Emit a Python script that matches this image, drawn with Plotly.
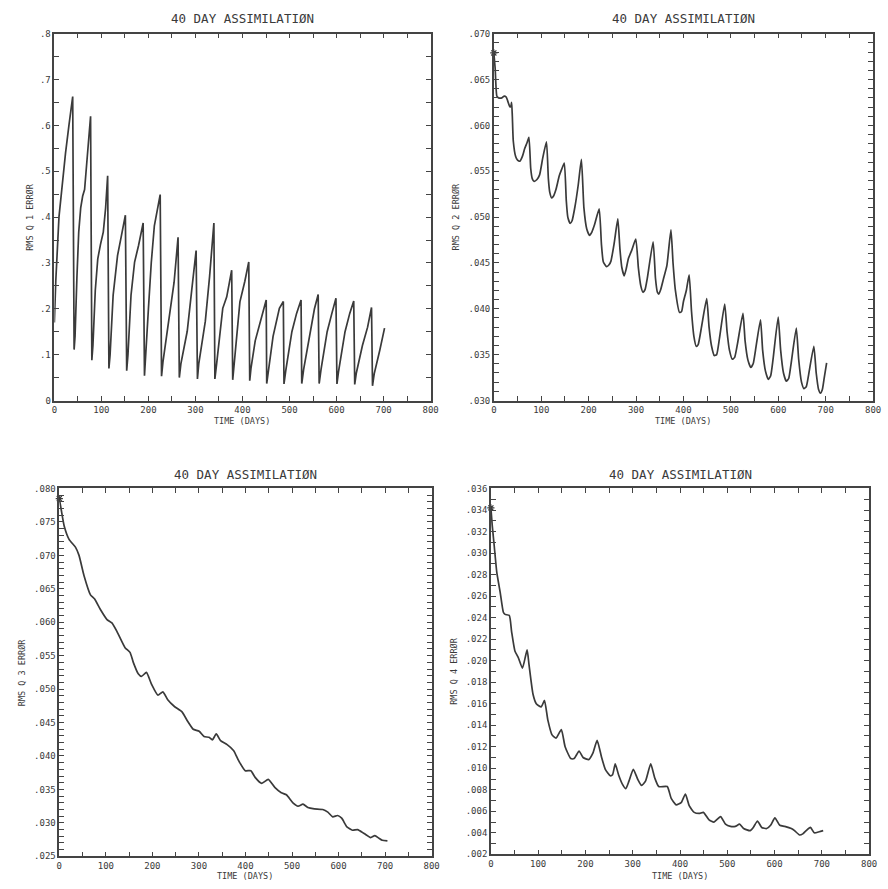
import plotly.graph_objects as go
from plotly.subplots import make_subplots

# ---- RMS error of each field during a 40-day assimilation run ----
days_q1 = [0, 3, 9.8, 16, 23.8, 31, 39, 42, 44, 48, 51.8, 56, 60.2, 64.3, 70, 77,
           79.7, 82, 87, 92.3, 98, 104, 109, 113.3, 116, 118.5, 125, 134.3, 142.7, 151,
           153.8, 156.5, 163, 170.6, 179, 188.8, 191.6, 194, 200, 206, 212.6, 225,
           227.9, 231, 240.6, 254.6, 263, 265.7, 269, 282.5, 292, 301.4, 304.2, 307,
           321, 330, 339.2, 341.3, 345, 352, 358, 366.5, 377, 379.2, 382, 388, 394.5,
           405, 413.3, 415.4, 418, 427, 436.4, 443, 450.4, 451.5, 455, 465, 478.4,
           486.8, 488.2, 492, 505, 515, 524.5, 526, 530, 545, 553, 560.9, 563, 567,
           580, 590, 598.7, 600.8, 604, 618, 628, 636.5, 638.6, 642, 655, 666, 674.3,
           676.4, 680, 692, 702]
rms_q1 = [0.17, 0.26, 0.40, 0.47, 0.54, 0.60, 0.663, 0.111, 0.14, 0.27, 0.367, 0.42,
          0.446, 0.46, 0.54, 0.62, 0.088, 0.12, 0.24, 0.309, 0.34, 0.367, 0.42, 0.49,
          0.070, 0.10, 0.23, 0.316, 0.36, 0.404, 0.065, 0.10, 0.23, 0.302, 0.338,
          0.387, 0.054, 0.09, 0.20, 0.30, 0.381, 0.449, 0.053, 0.085, 0.158, 0.258,
          0.356, 0.050, 0.08, 0.151, 0.24, 0.327, 0.047, 0.08, 0.173, 0.27, 0.387,
          0.047, 0.08, 0.15, 0.201, 0.226, 0.284, 0.045, 0.075, 0.15, 0.215, 0.26,
          0.302, 0.043, 0.07, 0.13, 0.165, 0.19, 0.219, 0.037, 0.065, 0.14, 0.201,
          0.216, 0.036, 0.065, 0.15, 0.19, 0.219, 0.037, 0.068, 0.16, 0.20, 0.231,
          0.037, 0.068, 0.15, 0.19, 0.223, 0.036, 0.062, 0.15, 0.19, 0.217, 0.035,
          0.06, 0.12, 0.16, 0.203, 0.032, 0.058, 0.11, 0.158]

days_q2 = [0, 2.8, 6.3, 10, 17, 22, 26, 29, 34, 36, 37.5, 39, 41, 46, 50, 55, 60, 65.3,
           70, 74, 77.8, 81, 85, 91, 96.5, 103, 111, 115, 118, 122, 126, 131, 138, 143,
           148.6, 152.8, 156, 161, 165, 171, 178, 184.7, 190, 196, 201.9, 207, 212,
           222.2, 227, 231, 238, 243, 247, 254, 261.5, 266, 270, 275, 279, 284, 291,
           299.4, 305, 310, 314.6, 319, 323.6, 336, 341, 345, 348, 352, 358, 365,
           373.6, 378, 383, 391.7, 396, 400, 406, 412, 417, 422, 427, 431, 438, 449,
           454, 459, 465, 470, 476, 487, 492, 497, 503, 508, 514, 525.5, 530, 536,
           542, 547, 552, 562.5, 567, 573, 579, 584, 589, 599.8, 605, 611, 617, 622,
           627, 638, 643, 649, 654, 659, 664, 675, 680, 685, 689, 693, 697, 702]
rms_q2 = [0.0679, 0.0662, 0.0632, 0.0630, 0.0630, 0.0632, 0.0631, 0.0627, 0.0620,
          0.0621, 0.0625, 0.0610, 0.0583, 0.0566, 0.0562, 0.0561, 0.0566, 0.0575,
          0.0581, 0.0587, 0.0553, 0.0542, 0.0539, 0.0541, 0.0546, 0.0564, 0.0582,
          0.0542, 0.0527, 0.0521, 0.0523, 0.0530, 0.0545, 0.0552, 0.0559, 0.0518,
          0.0500, 0.0493, 0.0496, 0.0511, 0.0535, 0.0563, 0.0510, 0.0487, 0.0480,
          0.0484, 0.0491, 0.0509, 0.0470, 0.0451, 0.0446, 0.0448, 0.0452, 0.0472,
          0.0498, 0.0465, 0.0445, 0.0436, 0.0443, 0.0455, 0.0464, 0.0476, 0.0444,
          0.0425, 0.0418, 0.0421, 0.0433, 0.0473, 0.0433, 0.0418, 0.0416, 0.0421,
          0.0433, 0.0447, 0.0486, 0.0450, 0.0420, 0.0396, 0.0397, 0.0408, 0.0420,
          0.0437, 0.0397, 0.0370, 0.0359, 0.0361, 0.0380, 0.0411, 0.0380, 0.0360,
          0.0349, 0.0350, 0.0368, 0.0405, 0.0375, 0.0355, 0.0345, 0.0347, 0.0362,
          0.0395, 0.0365, 0.0344, 0.0336, 0.0340, 0.0355, 0.0388, 0.0355, 0.0332,
          0.0323, 0.0327, 0.0345, 0.0391, 0.0355, 0.0330, 0.0321, 0.0324, 0.0340,
          0.0379, 0.0345, 0.0320, 0.0313, 0.0315, 0.0328, 0.0359, 0.0330, 0.0312,
          0.0308, 0.0312, 0.0325, 0.0341]

days_q3 = [0, 4, 10.5, 21, 35, 42.4, 53, 67, 75.6, 88.3, 102.5, 113, 124, 141.3, 152,
           159, 169.6, 176.6, 187.2, 197.8, 212, 222.6, 233, 247.4, 263.7, 275.7,
           287.7, 300.5, 311, 321.7, 328.8, 337.3, 346.5, 360.6, 374.8, 385.4, 399.5,
           411.6, 420.8, 435, 449, 463, 477, 488, 502, 513, 523.6, 534, 548, 566, 577,
           587.6, 598, 606.8, 618, 630, 641, 655, 669, 678, 687, 694, 705]
rms_q3 = [0.0785, 0.0769, 0.0744, 0.0724, 0.0712, 0.0700, 0.0670, 0.0641, 0.0635,
          0.0619, 0.0604, 0.0599, 0.0586, 0.0562, 0.0555, 0.0540, 0.0523, 0.0519,
          0.0525, 0.0508, 0.0491, 0.0496, 0.0484, 0.0474, 0.0466, 0.0452, 0.0440,
          0.0437, 0.0429, 0.0428, 0.0424, 0.0433, 0.0423, 0.0417, 0.0408, 0.0393,
          0.0378, 0.0378, 0.0368, 0.0359, 0.0365, 0.0353, 0.0345, 0.0342, 0.0330,
          0.0325, 0.0328, 0.0323, 0.0321, 0.0320, 0.0316, 0.0309, 0.0311, 0.0307,
          0.0294, 0.0289, 0.0290, 0.0284, 0.0278, 0.0281, 0.0277, 0.0274, 0.0273]

days_q4 = [0, 3, 7, 12.5, 19.5, 26.4, 30, 39, 43.8, 50.8, 57.8, 66.8, 76.6, 80.7, 89,
           96, 106.4, 113.4, 120.4, 129.4, 137.8, 149, 157, 169, 176, 186.5, 195, 207,
           215.7, 224.7, 233.7, 242, 252.5, 257.4, 263, 270, 278.4, 285.3, 292, 301.3,
           310.3, 318.7, 327, 338, 346.6, 355, 373, 381.4, 391.8, 402.3, 411.4, 419.7,
           430, 440.5, 449.5, 461.4, 471.8, 485.8, 496.2, 506.7, 517, 526, 534.5,
           548.4, 555, 563.8, 572.8, 583.3, 591.6, 600.7, 611, 621.5, 635.4, 642.3,
           652.8, 659.7, 666.7, 675.8, 684, 694.5, 702.8]
rms_q4 = [0.0342, 0.0325, 0.0307, 0.0282, 0.0264, 0.0245, 0.0243, 0.0242, 0.0227,
          0.0209, 0.0203, 0.0193, 0.0210, 0.0196, 0.0169, 0.0160, 0.0157, 0.0163,
          0.0145, 0.0131, 0.0128, 0.0136, 0.0120, 0.0109, 0.0109, 0.0116, 0.0110,
          0.0108, 0.0114, 0.0126, 0.0111, 0.0099, 0.0093, 0.0094, 0.0104, 0.0094,
          0.0085, 0.0081, 0.0088, 0.0099, 0.0090, 0.0084, 0.0088, 0.0104, 0.0091,
          0.0083, 0.0083, 0.0072, 0.0066, 0.0068, 0.0076, 0.0065, 0.0059, 0.0058,
          0.0059, 0.0052, 0.0050, 0.0055, 0.0048, 0.0046, 0.0046, 0.0048, 0.0044,
          0.0042, 0.0045, 0.0051, 0.0045, 0.0044, 0.0047, 0.0054, 0.0047, 0.0046,
          0.0044, 0.0042, 0.0038, 0.0039, 0.0042, 0.0045, 0.0040, 0.0041, 0.0042]

# ---- tick labels ----
x_ticks = [0, 100, 200, 300, 400, 500, 600, 700, 800]
x_labels = ["0", "100", "200", "300", "400", "500", "600", "700", "800"]
x_minor_ticks = [50, 150, 250, 350, 450, 550, 650, 750]

y1_ticks = [0, 0.1, 0.2, 0.3, 0.4, 0.5, 0.6, 0.7, 0.8]
y1_labels = ["0", ".1", ".2", ".3", ".4", ".5", ".6", ".7", ".8"]
y2_ticks = [0.030, 0.035, 0.040, 0.045, 0.050, 0.055, 0.060, 0.065, 0.070]
y2_labels = [".030", ".035", ".040", ".045", ".050", ".055", ".060", ".065", ".070"]
y3_ticks = [0.025, 0.030, 0.035, 0.040, 0.045, 0.050, 0.055, 0.060, 0.065, 0.070,
            0.075, 0.080]
y3_labels = [".025", ".030", ".035", ".040", ".045", ".050", ".055", ".060", ".065",
             ".070", ".075", ".080"]
y4_ticks = [0.002 * k for k in range(1, 19)]
y4_labels = ["." + f"{0.002 * k:.3f}".split(".")[1] for k in range(1, 19)]

title_text = "40 DAY ASSIMILATIØN"
y_titles = ["RMS Q 1 ERRØR", "RMS Q 2 ERRØR", "RMS Q 3 ERRØR", "RMS Q 4 ERRØR"]
x_title = "TIME (DAYS)"

INK = "#3a3a3a"
AXIS = "#444444"
FONT = "DejaVu Sans Mono"
W, H = 888, 889

# panel boxes in pixels: (left, right, top, bottom)
boxes = [(52, 433, 29, 400), (497, 881, 29, 400), (57, 434, 489, 861), (494, 877, 489, 859)]
y_ranges = [(0, 0.8), (0.030, 0.070), (0.025, 0.080), (0.002, 0.036)]
y_minor = [0.05, 0.001, 0.001, 0.001]
y_tickinfo = [(y1_ticks, y1_labels), (y2_ticks, y2_labels), (y3_ticks, y3_labels),
              (y4_ticks, y4_labels)]
series = [(days_q1, rms_q1), (days_q2, rms_q2), (days_q3, rms_q3), (days_q4, rms_q4)]
# the sawtooth Q1 keeps sharp corners; the smoother fields get a light spline
line_shapes = ["linear", "spline", "spline", "spline"]
ytitle_px = [27, 459, 20, 457]
title_px = [14, 14, 475, 475]
xtitle_px = [421, 421, 881, 881]
cells = [(1, 1), (1, 2), (2, 1), (2, 2)]

fig = make_subplots(rows=2, cols=2)
annotations = []
for i, ((l, r, t, b), (xs, ys)) in enumerate(zip(boxes, series)):
    row, col = cells[i]
    line = dict(color=INK, width=1.7, shape=line_shapes[i])
    if line_shapes[i] == "spline":
        line["smoothing"] = 0.5
    fig.add_trace(go.Scatter(
        x=xs, y=ys, mode="lines", line=line,
        showlegend=False, hoverinfo="skip"), row=row, col=col)
    if i > 0:
        # start-of-run marker
        fig.add_trace(go.Scatter(
            x=xs[:1], y=ys[:1], mode="markers",
            marker=dict(symbol="asterisk-open", size=6, color=INK,
                        line=dict(color=INK, width=1.2)),
            showlegend=False, hoverinfo="skip", cliponaxis=False), row=row, col=col)
    tv, tt = y_tickinfo[i]
    lo, hi = y_ranges[i]
    step = y_minor[i]
    nsteps = int(round((hi - lo) / step))
    minor_vals = [lo + k * step for k in range(nsteps + 1)]
    minor_vals = [v for v in minor_vals if all(abs(v - m) > step / 4 for m in tv)]
    fig.update_xaxes(
        domain=[l / W, r / W], range=[0, 800],
        tickmode="array", tickvals=x_ticks + x_minor_ticks,
        ticktext=x_labels + [""] * len(x_minor_ticks),
        row=row, col=col)
    fig.update_yaxes(
        domain=[1 - b / H, 1 - t / H], range=[lo, hi],
        tickmode="array", tickvals=tv + minor_vals,
        ticktext=tt + [""] * len(minor_vals),
        row=row, col=col)
    cx = (l + r) / 2 / W
    annotations.append(dict(text=title_text, x=cx, y=1 - title_px[i] / H, xref="paper",
                            yref="paper", showarrow=False, xanchor="center",
                            yanchor="middle",
                            font=dict(family=FONT, size=12.5, color=INK)))
    annotations.append(dict(text=y_titles[i], x=ytitle_px[i] / W,
                            y=1 - (t + b) / 2 / H, xref="paper", yref="paper",
                            showarrow=False, textangle=-90, xanchor="center",
                            yanchor="middle",
                            font=dict(family=FONT, size=8.5, color=INK)))
    annotations.append(dict(text=x_title, x=cx, y=1 - xtitle_px[i] / H, xref="paper",
                            yref="paper", showarrow=False, xanchor="center",
                            yanchor="middle",
                            font=dict(family=FONT, size=8.5, color=INK)))

axis_style = dict(showline=True, linecolor=AXIS, linewidth=1.5, mirror="allticks",
                  ticks="inside", tickcolor=AXIS, tickwidth=1.3, ticklen=5,
                  showgrid=False, zeroline=False,
                  tickfont=dict(family=FONT, size=9, color=INK))
fig.update_xaxes(**axis_style)
fig.update_yaxes(**axis_style)

fig.update_layout(template="simple_white", width=W, height=H,
                  margin=dict(l=0, r=0, t=0, b=0),
                  paper_bgcolor="white", plot_bgcolor="white",
                  annotations=annotations)
fig.write_html("out.html")
